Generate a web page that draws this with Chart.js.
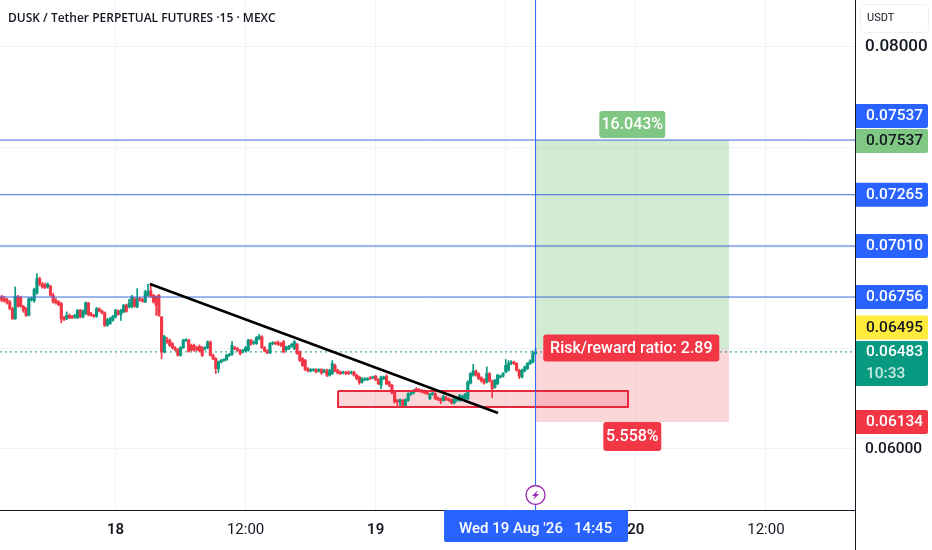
<!DOCTYPE html>
<html>
<head>
<meta charset="utf-8">
<title>DUSK / Tether</title>
<style>
  html, body { margin: 0; padding: 0; background: #fff; overflow: hidden; }
  #wrap { width: 932px; height: 550px; }
  canvas { display: block; }
</style>
<script src="https://cdn.jsdelivr.net/npm/chart.js@4/dist/chart.umd.min.js"></script>
</head>
<body>
<div id="wrap"><canvas id="dusk"></canvas></div>
<script>
// 15 minute candles. Time axis is hours after 18 Aug 00:00
const firstBar = -10.5;
const barStep = 0.25;
const opens = [
  0.06757,0.06748,0.06743,0.06732,0.06698,0.06648,0.06757,0.06753,0.06710,0.06698,0.06665,0.06743,0.06737,0.06776,0.06848,0.06820,0.06820,0.06806,0.06810,0.06765,
  0.06740,0.06732,0.06723,0.06653,0.06648,0.06665,0.06660,0.06657,0.06653,0.06690,0.06657,0.06673,0.06727,0.06673,0.06665,0.06660,0.06698,0.06687,0.06677,0.06615,
  0.06624,0.06640,0.06657,0.06687,0.06670,0.06682,0.06715,0.06707,0.06707,0.06748,0.06707,0.06748,0.06743,0.06732,0.06765,0.06786,0.06765,0.06757,0.06765,0.06657,
  0.06483,0.06541,0.06541,0.06524,0.06504,0.06494,0.06466,0.06504,0.06541,0.06541,0.06516,0.06516,0.06504,0.06511,0.06504,0.06499,0.06504,0.06532,0.06466,0.06449,
  0.06400,0.06433,0.06441,0.06444,0.06466,0.06471,0.06504,0.06499,0.06491,0.06483,0.06488,0.06491,0.06541,0.06527,0.06524,0.06549,0.06558,0.06504,0.06488,0.06478,
  0.06524,0.06528,0.06531,0.06524,0.06533,0.06494,0.06499,0.06511,0.06499,0.06521,0.06483,0.06450,0.06441,0.06400,0.06388,0.06392,0.06395,0.06388,0.06395,0.06383,
  0.06392,0.06367,0.06375,0.06416,0.06392,0.06383,0.06378,0.06382,0.06383,0.06378,0.06383,0.06367,0.06358,0.06333,0.06345,0.06345,0.06355,0.06355,0.06362,0.06345,
  0.06317,0.06350,0.06362,0.06333,0.06317,0.06284,0.06242,0.06234,0.06242,0.06217,0.06242,0.06272,0.06279,0.06300,0.06295,0.06292,0.06289,0.06284,0.06250,0.06272,
  0.06275,0.06255,0.06249,0.06242,0.06255,0.06249,0.06245,0.06229,0.06242,0.06242,0.06255,0.06250,0.06250,0.06328,0.06367,0.06388,0.06375,0.06355,0.06345,0.06333,
  0.06375,0.06338,0.06308,0.06325,0.06358,0.06362,0.06383,0.06392,0.06425,0.06433,0.06425,0.06392,0.06358,0.06388,0.06400,0.06425,0.06433,0.06475
];
const closes = [
  0.06740,0.06737,0.06727,0.06698,0.06648,0.06760,0.06710,0.06710,0.06690,0.06665,0.06748,0.06748,0.06793,0.06848,0.06820,0.06806,0.06803,0.06820,0.06765,0.06732,
  0.06727,0.06718,0.06648,0.06643,0.06665,0.06653,0.06653,0.06665,0.06690,0.06657,0.06687,0.06727,0.06668,0.06665,0.06660,0.06698,0.06687,0.06677,0.06615,0.06643,
  0.06648,0.06660,0.06690,0.06670,0.06690,0.06715,0.06685,0.06723,0.06757,0.06710,0.06748,0.06740,0.06735,0.06782,0.06786,0.06760,0.06732,0.06715,0.06665,0.06483,
  0.06561,0.06532,0.06516,0.06504,0.06494,0.06466,0.06504,0.06541,0.06543,0.06486,0.06494,0.06491,0.06494,0.06488,0.06466,0.06504,0.06532,0.06466,0.06449,0.06400,
  0.06433,0.06441,0.06444,0.06466,0.06471,0.06516,0.06499,0.06491,0.06474,0.06491,0.06504,0.06541,0.06521,0.06532,0.06554,0.06561,0.06504,0.06488,0.06478,0.06524,
  0.06528,0.06524,0.06521,0.06516,0.06483,0.06508,0.06511,0.06521,0.06533,0.06475,0.06441,0.06416,0.06395,0.06388,0.06395,0.06395,0.06383,0.06395,0.06378,0.06392,
  0.06367,0.06392,0.06425,0.06388,0.06378,0.06375,0.06383,0.06375,0.06375,0.06383,0.06367,0.06350,0.06330,0.06350,0.06350,0.06350,0.06350,0.06358,0.06345,0.06325,
  0.06358,0.06358,0.06325,0.06317,0.06279,0.06234,0.06234,0.06245,0.06217,0.06245,0.06275,0.06279,0.06292,0.06295,0.06289,0.06284,0.06279,0.06275,0.06272,0.06279,
  0.06250,0.06245,0.06239,0.06262,0.06245,0.06242,0.06229,0.06250,0.06250,0.06267,0.06262,0.06272,0.06333,0.06375,0.06388,0.06367,0.06350,0.06338,0.06328,0.06375,
  0.06338,0.06300,0.06342,0.06367,0.06362,0.06375,0.06416,0.06425,0.06433,0.06425,0.06392,0.06362,0.06392,0.06408,0.06425,0.06438,0.06475,0.06483
];
const highs = [
  0.06765,0.06760,0.06750,0.06738,0.06705,0.06806,0.06765,0.06760,0.06715,0.06705,0.06752,0.06755,0.06800,0.06873,0.06855,0.06830,0.06825,0.06826,0.06815,0.06776,
  0.06748,0.06738,0.06730,0.06660,0.06682,0.06672,0.06665,0.06670,0.06695,0.06695,0.06692,0.06732,0.06730,0.06680,0.06670,0.06705,0.06702,0.06692,0.06682,0.06650,
  0.06655,0.06665,0.06695,0.06692,0.06695,0.06720,0.06720,0.06745,0.06765,0.06755,0.06798,0.06755,0.06750,0.06790,0.06820,0.06823,0.06770,0.06762,0.06770,0.06660,
  0.06565,0.06555,0.06548,0.06530,0.06510,0.06500,0.06510,0.06546,0.06548,0.06546,0.06522,0.06522,0.06510,0.06518,0.06510,0.06510,0.06538,0.06538,0.06472,0.06455,
  0.06438,0.06446,0.06450,0.06472,0.06476,0.06535,0.06510,0.06505,0.06496,0.06496,0.06510,0.06546,0.06546,0.06538,0.06560,0.06570,0.06564,0.06510,0.06494,0.06530,
  0.06534,0.06534,0.06538,0.06530,0.06540,0.06512,0.06516,0.06526,0.06540,0.06526,0.06488,0.06455,0.06446,0.06405,0.06400,0.06400,0.06400,0.06400,0.06400,0.06397,
  0.06397,0.06397,0.06440,0.06422,0.06397,0.06388,0.06388,0.06387,0.06388,0.06388,0.06388,0.06372,0.06363,0.06355,0.06355,0.06355,0.06360,0.06363,0.06367,0.06350,
  0.06363,0.06363,0.06370,0.06338,0.06322,0.06289,0.06247,0.06250,0.06247,0.06250,0.06280,0.06285,0.06297,0.06305,0.06300,0.06297,0.06294,0.06289,0.06277,0.06290,
  0.06280,0.06260,0.06254,0.06268,0.06262,0.06254,0.06250,0.06255,0.06256,0.06272,0.06268,0.06277,0.06340,0.06380,0.06421,0.06393,0.06380,0.06360,0.06350,0.06408,
  0.06380,0.06343,0.06347,0.06372,0.06367,0.06380,0.06445,0.06440,0.06440,0.06438,0.06430,0.06397,0.06397,0.06413,0.06430,0.06443,0.06488,0.06500
];
const lows = [
  0.06732,0.06730,0.06720,0.06692,0.06645,0.06645,0.06705,0.06705,0.06680,0.06660,0.06662,0.06735,0.06730,0.06770,0.06812,0.06800,0.06798,0.06800,0.06760,0.06725,
  0.06720,0.06712,0.06627,0.06638,0.06643,0.06648,0.06648,0.06650,0.06648,0.06652,0.06652,0.06668,0.06662,0.06660,0.06655,0.06655,0.06682,0.06672,0.06610,0.06610,
  0.06620,0.06636,0.06652,0.06665,0.06640,0.06678,0.06680,0.06702,0.06702,0.06705,0.06702,0.06735,0.06730,0.06728,0.06760,0.06755,0.06726,0.06665,0.06660,0.06449,
  0.06478,0.06525,0.06510,0.06498,0.06488,0.06462,0.06462,0.06500,0.06535,0.06482,0.06488,0.06486,0.06488,0.06482,0.06460,0.06492,0.06498,0.06462,0.06444,0.06375,
  0.06380,0.06428,0.06436,0.06440,0.06460,0.06466,0.06494,0.06486,0.06468,0.06478,0.06483,0.06486,0.06516,0.06520,0.06520,0.06544,0.06500,0.06483,0.06474,0.06474,
  0.06518,0.06518,0.06515,0.06510,0.06478,0.06488,0.06494,0.06506,0.06494,0.06470,0.06435,0.06410,0.06390,0.06383,0.06383,0.06387,0.06378,0.06383,0.06372,0.06378,
  0.06360,0.06362,0.06370,0.06383,0.06373,0.06370,0.06373,0.06370,0.06370,0.06373,0.06362,0.06345,0.06322,0.06328,0.06340,0.06340,0.06345,0.06350,0.06340,0.06320,
  0.06300,0.06345,0.06320,0.06310,0.06274,0.06228,0.06215,0.06212,0.06212,0.06212,0.06237,0.06267,0.06274,0.06290,0.06284,0.06279,0.06274,0.06270,0.06246,0.06267,
  0.06246,0.06240,0.06225,0.06237,0.06240,0.06237,0.06224,0.06224,0.06237,0.06237,0.06250,0.06245,0.06245,0.06323,0.06362,0.06362,0.06345,0.06333,0.06323,0.06328,
  0.06333,0.06255,0.06303,0.06320,0.06352,0.06357,0.06378,0.06387,0.06420,0.06420,0.06387,0.06350,0.06353,0.06383,0.06395,0.06420,0.06428,0.06470
];

// drawing tools on the chart
const levelPrices = [0.07537, 0.07265, 0.07010, 0.06756];
const lastPrice = 0.06483;
const entryPrice = 0.06495;
const targetPrice = 0.07537;
const stopPrice = 0.06134;
const positionStart = 38.75;
const positionEnd = 56.6;
const zoneTimes = [20.53, 47.28];
const zonePrices = [0.06289, 0.06209];
const trendTimes = [3.18, 35.29];
const trendPrices = [0.06821, 0.06179];

const xMin = -10.655;
const xMax = 68.22;
const yMin = 0.056965;
const yMax = 0.082338;
const priceTicks = [0.06, 0.065, 0.07, 0.075, 0.08];
const timeTicks = [0, 12, 24, 36, 48, 60];
const timeLabels = ['18', '12:00', '19', '12:00', '20', '12:00'];

const UP = '#089981';
const DOWN = '#f23645';
const BLUE = '#2962ff';
const LINE_BLUE = '#3d6ad6';
const FONT = 'Roboto, sans-serif';

const barTimes = opens.map((_, i) => firstBar + i * barStep);
const barColors = opens.map((o, i) => closes[i] >= o ? UP : DOWN);

function hLine(price, color, extra) {
  return Object.assign({
    type: 'line',
    data: [{ x: xMin, y: price }, { x: xMax, y: price }],
    borderColor: color,
    borderWidth: 1,
    pointRadius: 0,
    fill: false,
    order: 1
  }, extra || {});
}

function box(t0, t1, top, bottom, color) {
  return {
    type: 'line',
    data: [{ x: t0, y: top }, { x: t1, y: top }],
    borderWidth: 0,
    pointRadius: 0,
    backgroundColor: color,
    fill: { value: bottom },
    order: 5
  };
}

const datasets = [
  box(positionStart, positionEnd, targetPrice, entryPrice, 'rgba(76,175,80,0.25)'),
  box(positionStart, positionEnd, entryPrice, stopPrice, 'rgba(242,54,69,0.2)'),
  {
    type: 'bar',
    data: barTimes.map((t, i) => ({ x: t, y: [lows[i], highs[i]] })),
    backgroundColor: barColors,
    barThickness: 1,
    grouped: false,
    order: 4
  },
  {
    type: 'bar',
    data: barTimes.map((t, i) => ({ x: t, y: [opens[i], closes[i]] })),
    backgroundColor: barColors,
    barThickness: 2.5,
    minBarLength: 1,
    grouped: false,
    order: 3
  },
  box(zoneTimes[0], zoneTimes[1], zonePrices[0], zonePrices[1], 'rgba(242,54,69,0.2)'),
  {
    type: 'line',
    data: [
      { x: zoneTimes[0], y: zonePrices[0] }, { x: zoneTimes[1], y: zonePrices[0] },
      { x: zoneTimes[1], y: zonePrices[1] }, { x: zoneTimes[0], y: zonePrices[1] },
      { x: zoneTimes[0], y: zonePrices[0] }
    ],
    borderColor: '#e8283c',
    borderWidth: 2,
    pointRadius: 0,
    fill: false,
    order: 2
  },
  {
    type: 'line',
    data: [{ x: positionStart, y: yMin }, { x: positionStart, y: yMax }],
    borderColor: BLUE,
    borderWidth: 1,
    pointRadius: 0,
    fill: false,
    order: 1
  },
  {
    type: 'line',
    data: [{ x: trendTimes[0], y: trendPrices[0] }, { x: trendTimes[1], y: trendPrices[1] }],
    borderColor: '#000',
    borderWidth: 2.5,
    pointRadius: 0,
    fill: false,
    order: 0
  },
  hLine(lastPrice, UP, { borderDash: [2, 3], order: 4 })
].concat(levelPrices.map(p => hLine(p, LINE_BLUE)));

// price tags on the right. shift moves a tag off its level where tags stack
const priceTags = [
  { text: '0.07537', price: 0.07537, shift: -24, bg: BLUE, fg: '#fff' },
  { text: '0.07265', price: 0.07265, shift: 0, bg: BLUE, fg: '#fff' },
  { text: '0.07010', price: 0.07010, shift: 0, bg: BLUE, fg: '#fff' },
  { text: '0.06756', price: 0.06756, shift: 0, bg: BLUE, fg: '#fff' },
  { text: '0.07537', price: 0.07537, shift: 1, bg: '#81c784', fg: '#131722' },
  { text: '0.06495', price: 0.06495, shift: -22, bg: '#ffeb3b', fg: '#131722' },
  { text: '0.06134', price: 0.06134, shift: 0, bg: DOWN, fg: '#fff' }
];

function roundBox(ctx, x, y, w, h, r, color) {
  ctx.fillStyle = color;
  ctx.beginPath();
  ctx.roundRect(x, y, w, h, r);
  ctx.fill();
}

function label(ctx, text, cx, cy, color, font, align) {
  ctx.fillStyle = color;
  ctx.font = font;
  ctx.textAlign = align || 'center';
  ctx.textBaseline = 'middle';
  ctx.fillText(text, cx, cy);
}

const overlay = {
  id: 'overlay',
  afterDraw(chart) {
    const ctx = chart.ctx;
    const xs = chart.scales.x;
    const ys = chart.scales.y;
    const area = chart.chartArea;
    const tagFont = '500 16px ' + FONT;
    const scaleFont = '500 15.5px ' + FONT;
    ctx.save();

    // header
    label(ctx, 'DUSK / Tether PERPETUAL FUTURES ·15 · MEXC', 8, 18.5, '#131722', '600 12px "Open Sans", sans-serif', 'left');

    // currency button
    ctx.strokeStyle = '#eef0f4';
    ctx.lineWidth = 1;
    ctx.beginPath();
    ctx.roundRect(860.5, 4.5, 68, 28, 3);
    ctx.stroke();
    label(ctx, 'USDT', 867, 18.5, '#131722', '11px ' + FONT, 'left');

    // axis line runs on down past the time axis
    ctx.fillStyle = '#131722';
    ctx.fillRect(area.right, area.bottom, 1, chart.height - area.bottom);

    // tags that sit on the price scale
    priceTags.forEach(tag => {
      const cy = ys.getPixelForValue(tag.price) + tag.shift;
      roundBox(ctx, area.right + 1, cy - 12, 72, 24, [0, 2, 2, 0], tag.bg);
      label(ctx, tag.text, area.right + 11, cy + 0.5, tag.fg, scaleFont, 'left');
    });
    const lastY = ys.getPixelForValue(lastPrice);
    roundBox(ctx, area.right + 1, lastY - 11, 72, 45, [0, 2, 2, 0], UP);
    label(ctx, '0.06483', area.right + 11, lastY + 0.5, '#fff', scaleFont, 'left');
    label(ctx, '10:33', area.right + 11, lastY + 22, '#c9e9e2', scaleFont, 'left');

    // position labels
    const boxMid = xs.getPixelForValue((positionStart + positionEnd) / 2);
    const targetY = ys.getPixelForValue(targetPrice);
    const stopY = ys.getPixelForValue(stopPrice);
    const entryY = ys.getPixelForValue(entryPrice);
    roundBox(ctx, boxMid - 33, targetY - 29, 66, 27, 3, '#81c784');
    label(ctx, '16.043%', boxMid, targetY - 15, '#fff', tagFont);
    roundBox(ctx, boxMid - 89, entryY - 15, 176, 27, 3, DOWN);
    label(ctx, 'Risk/reward ratio: 2.89', boxMid - 1, entryY - 1, '#fff', tagFont);
    roundBox(ctx, boxMid - 29, stopY, 58, 29, 3, DOWN);
    label(ctx, '5.558%', boxMid, stopY + 15, '#fff', tagFont);

    // date label on the cursor, covers the 12:00 tick
    const cursorX = xs.getPixelForValue(positionStart);
    roundBox(ctx, cursorX - 91.5, area.bottom, 184, 32, [0, 0, 2, 2], BLUE);
    label(ctx, "Wed 19 Aug '26   14:45", cursorX, area.bottom + 19, '#fff', '500 15px ' + FONT);

    // lightning mark
    const iconY = area.bottom - 15;
    ctx.beginPath();
    ctx.arc(cursorX, iconY, 9.5, 0, Math.PI * 2);
    ctx.fillStyle = '#fff';
    ctx.fill();
    ctx.strokeStyle = '#9c27b0';
    ctx.lineWidth = 1.3;
    ctx.stroke();
    ctx.fillStyle = '#9c27b0';
    ctx.beginPath();
    ctx.moveTo(cursorX + 2.5, iconY - 5);
    ctx.lineTo(cursorX - 3.5, iconY + 1);
    ctx.lineTo(cursorX - 0.5, iconY + 1);
    ctx.lineTo(cursorX - 2.5, iconY + 5);
    ctx.lineTo(cursorX + 3.5, iconY - 1);
    ctx.lineTo(cursorX + 0.5, iconY - 1);
    ctx.closePath();
    ctx.fill();
    ctx.restore();
  }
};

new Chart(document.getElementById('dusk'), {
  type: 'bar',
  data: { datasets: datasets },
  options: {
    responsive: true,
    maintainAspectRatio: false,
    animation: false,
    layout: { padding: 0 },
    plugins: {
      legend: { display: false },
      tooltip: { enabled: false }
    },
    scales: {
      x: {
        type: 'linear',
        offset: false,
        min: xMin,
        max: xMax,
        afterFit: scale => {
          scale.height = 40;
          scale.paddingLeft = 0;
          scale.paddingRight = 0;
        },
        afterBuildTicks: scale => { scale.ticks = timeTicks.map(v => ({ value: v })); },
        border: { color: '#131722', width: 1 },
        grid: { color: '#f0f3fa', drawTicks: false, offset: false },
        ticks: {
          autoSkip: false,
          maxRotation: 0,
          padding: 11,
          color: '#131722',
          font: ctx => ({ family: FONT, size: 15, weight: ctx.index % 2 === 0 ? '600' : '400' }),
          callback: value => timeLabels[timeTicks.indexOf(value)]
        }
      },
      y: {
        position: 'right',
        min: yMin,
        max: yMax,
        afterFit: scale => {
          scale.width = 77;
          scale.paddingTop = 0;
          scale.paddingBottom = 0;
        },
        afterBuildTicks: scale => { scale.ticks = priceTicks.map(v => ({ value: v })); },
        border: { color: '#131722', width: 1 },
        grid: { color: '#f0f3fa', drawTicks: false },
        ticks: {
          padding: 10,
          color: '#131722',
          font: ctx => ({ family: FONT, size: ctx.tick && ctx.tick.value === 0.08 ? 17 : 15.5, weight: '500' }),
          callback: value => value.toFixed(5)
        }
      }
    }
  },
  plugins: [overlay]
});
</script>
</body>
</html>
